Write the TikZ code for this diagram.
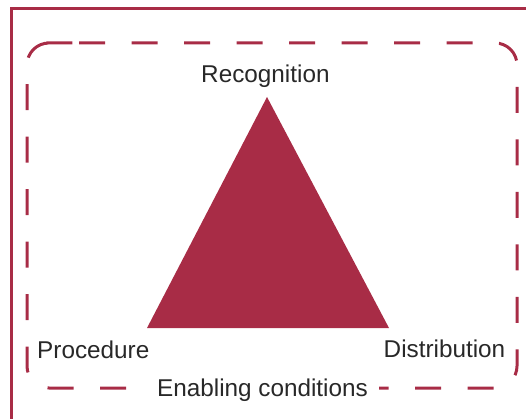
\documentclass[tikz,border=0pt]{standalone}
\usepackage{fontspec}
\setmainfont{Liberation Sans}
\usepackage{tikz}
\usetikzlibrary{positioning}
\definecolor{wine}{RGB}{168,44,70}
\definecolor{inkgray}{RGB}{40,40,40}

\begin{document}
\begin{tikzpicture}[x=1pt,y=-1pt,
	lbl/.style={text=inkgray,font=\fontsize{24.3}{29}\selectfont,inner sep=0pt,anchor=base},
	outerframe/.style={draw=wine,line width=3pt},
	enabling/.style={draw=wine,line width=3pt,dash pattern=on 26pt off 26.5pt,rounded corners=22pt}]

	\path[use as bounding box] (0,0) rectangle (526,419);
	\clip (0,0) rectangle (526,419);

	% outer frame, cut off at the right and at the bottom
	\draw[outerframe] (11.5,8.5) rectangle (560,460);

	\coordinate (rec) at (267,97);
	\coordinate (pro) at (147,328);
	\coordinate (dis) at (389,328);
	\fill[wine] (rec) -- (pro) -- (dis) -- cycle;

	\coordinate (nw) at (27,43);
	\coordinate (se) at (517,388);
	\coordinate (start) at (57,43);
	\draw[enabling] (start) -- (se |- nw) -- (se) -- (nw |- se) -- (nw) -- cycle;

	\node[lbl] (recognition) at (265.4,83) {Recognition};
	\node[lbl] (procedure) at (93.3,358) {Procedure};
	\node[lbl] (distribution) at (444.5,357) {Distribution};
	\node[lbl,fill=white,inner xsep=11pt] (conditions) at (262.5,396) {Enabling conditions};

\end{tikzpicture}
\end{document}
